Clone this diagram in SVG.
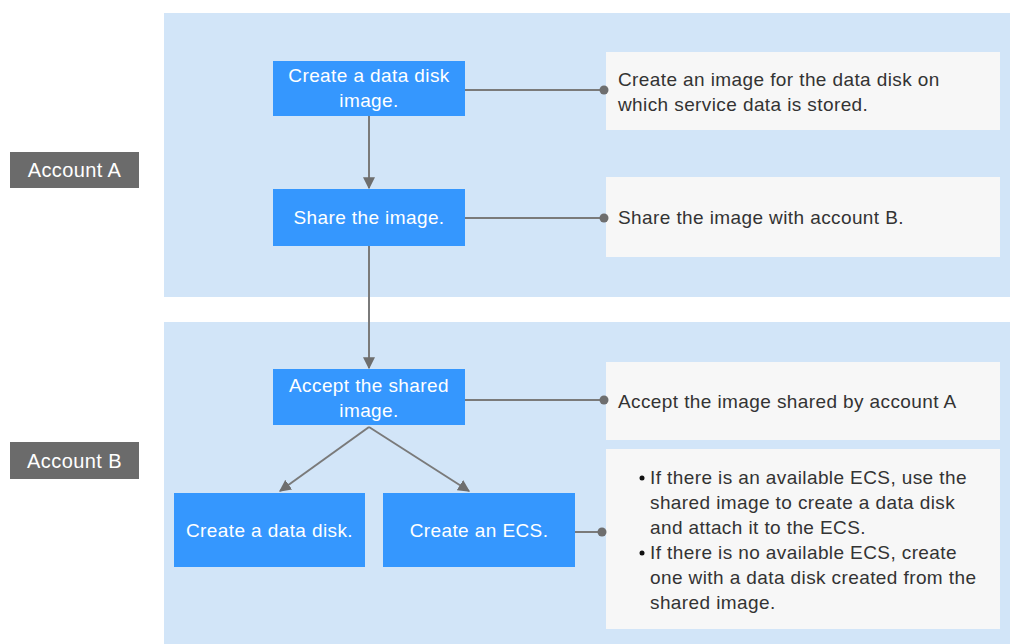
<svg xmlns="http://www.w3.org/2000/svg" width="1011" height="644" viewBox="0 0 1011 644">
<style>
.panel{fill:#d2e5f8}
.step{fill:#3597fe}
.note{fill:#f7f7f7}
.acc{fill:#6b6b6b}
.st{font-family:"Liberation Sans",Arial,sans-serif;font-size:19px;letter-spacing:0.4px;fill:#ffffff;text-anchor:middle}
.at{font-family:"Liberation Sans",Arial,sans-serif;font-size:20px;letter-spacing:0.4px;fill:#ffffff;text-anchor:middle}
.nt{font-family:"Liberation Sans",Arial,sans-serif;font-size:19px;letter-spacing:0.4px;fill:#333333}
.ln{stroke:#7a7a7a;stroke-width:2;fill:none}
.dot{fill:#6e6e6e}
</style>
<defs>
<marker id="arr" viewBox="0 0 10 10" refX="9" refY="5" markerWidth="6" markerHeight="6" orient="auto" markerUnits="strokeWidth">
<path d="M0,0 L10,5 L0,10 z" fill="#6e6e6e"/>
</marker>
</defs>
<rect class="panel" x="164" y="13" width="846" height="284"/>
<rect class="panel" x="164" y="322" width="846" height="322"/>
<g id="accountA"><rect class="acc" x="10" y="152" width="129" height="36"/><text class="at" x="74.5" y="177">Account A</text></g>
<g id="accountB"><rect class="acc" x="10" y="442" width="129" height="37"/><text class="at" x="74.5" y="468">Account B</text></g>
<g id="note1"><rect class="note" x="606" y="52" width="394" height="78"/><text class="nt" x="618" y="86">Create an image for the data disk on</text><text class="nt" x="618" y="111">which service data is stored.</text></g>
<g id="note2"><rect class="note" x="606" y="177" width="394" height="80"/><text class="nt" x="618" y="224">Share the image with account B.</text></g>
<g id="note3"><rect class="note" x="606" y="362" width="394" height="78"/><text class="nt" x="618" y="408">Accept the image shared by account A</text></g>
<g id="note4"><rect class="note" x="606" y="449" width="394" height="180"/>
<circle cx="642" cy="478" r="2.5" fill="#111"/><circle cx="642" cy="553" r="2.5" fill="#111"/>
<text class="nt" x="650" y="484">If there is an available ECS, use the</text>
<text class="nt" x="650" y="509">shared image to create a data disk</text>
<text class="nt" x="650" y="534">and attach it to the ECS.</text>
<text class="nt" x="650" y="559">If there is no available ECS, create</text>
<text class="nt" x="650" y="584">one with a data disk created from the</text>
<text class="nt" x="650" y="609">shared image.</text></g>
<g id="connectors">
<line class="ln" x1="369" y1="116" x2="369" y2="188" marker-end="url(#arr)"/>
<line class="ln" x1="369" y1="246" x2="369" y2="368" marker-end="url(#arr)"/>
<line class="ln" x1="369" y1="427" x2="280" y2="491" marker-end="url(#arr)"/>
<line class="ln" x1="369" y1="427" x2="469" y2="491" marker-end="url(#arr)"/>
<line class="ln" x1="465" y1="90" x2="604" y2="90"/><circle class="dot" cx="604" cy="90" r="4.5"/>
<line class="ln" x1="465" y1="218" x2="604" y2="218"/><circle class="dot" cx="604" cy="218" r="4.5"/>
<line class="ln" x1="462" y1="400" x2="604" y2="400"/><circle class="dot" cx="604" cy="400" r="4.5"/>
<line class="ln" x1="575" y1="532" x2="602" y2="532"/><circle class="dot" cx="602" cy="532" r="4.5"/>
</g>
<g id="step1"><rect class="step" x="273" y="61" width="192" height="55"/><text class="st" x="369" y="82">Create a data disk</text><text class="st" x="369" y="107">image.</text></g>
<g id="step2"><rect class="step" x="273" y="189" width="192" height="57"/><text class="st" x="369" y="224">Share the image.</text></g>
<g id="step3"><rect class="step" x="273" y="369" width="192" height="56"/><text class="st" x="369" y="392">Accept the shared</text><text class="st" x="369" y="417">image.</text></g>
<g id="step4"><rect class="step" x="174" y="493" width="191" height="74"/><text class="st" x="269.5" y="537">Create a data disk.</text></g>
<g id="step5"><rect class="step" x="383" y="493" width="192" height="74"/><text class="st" x="479" y="537">Create an ECS.</text></g>
</svg>
